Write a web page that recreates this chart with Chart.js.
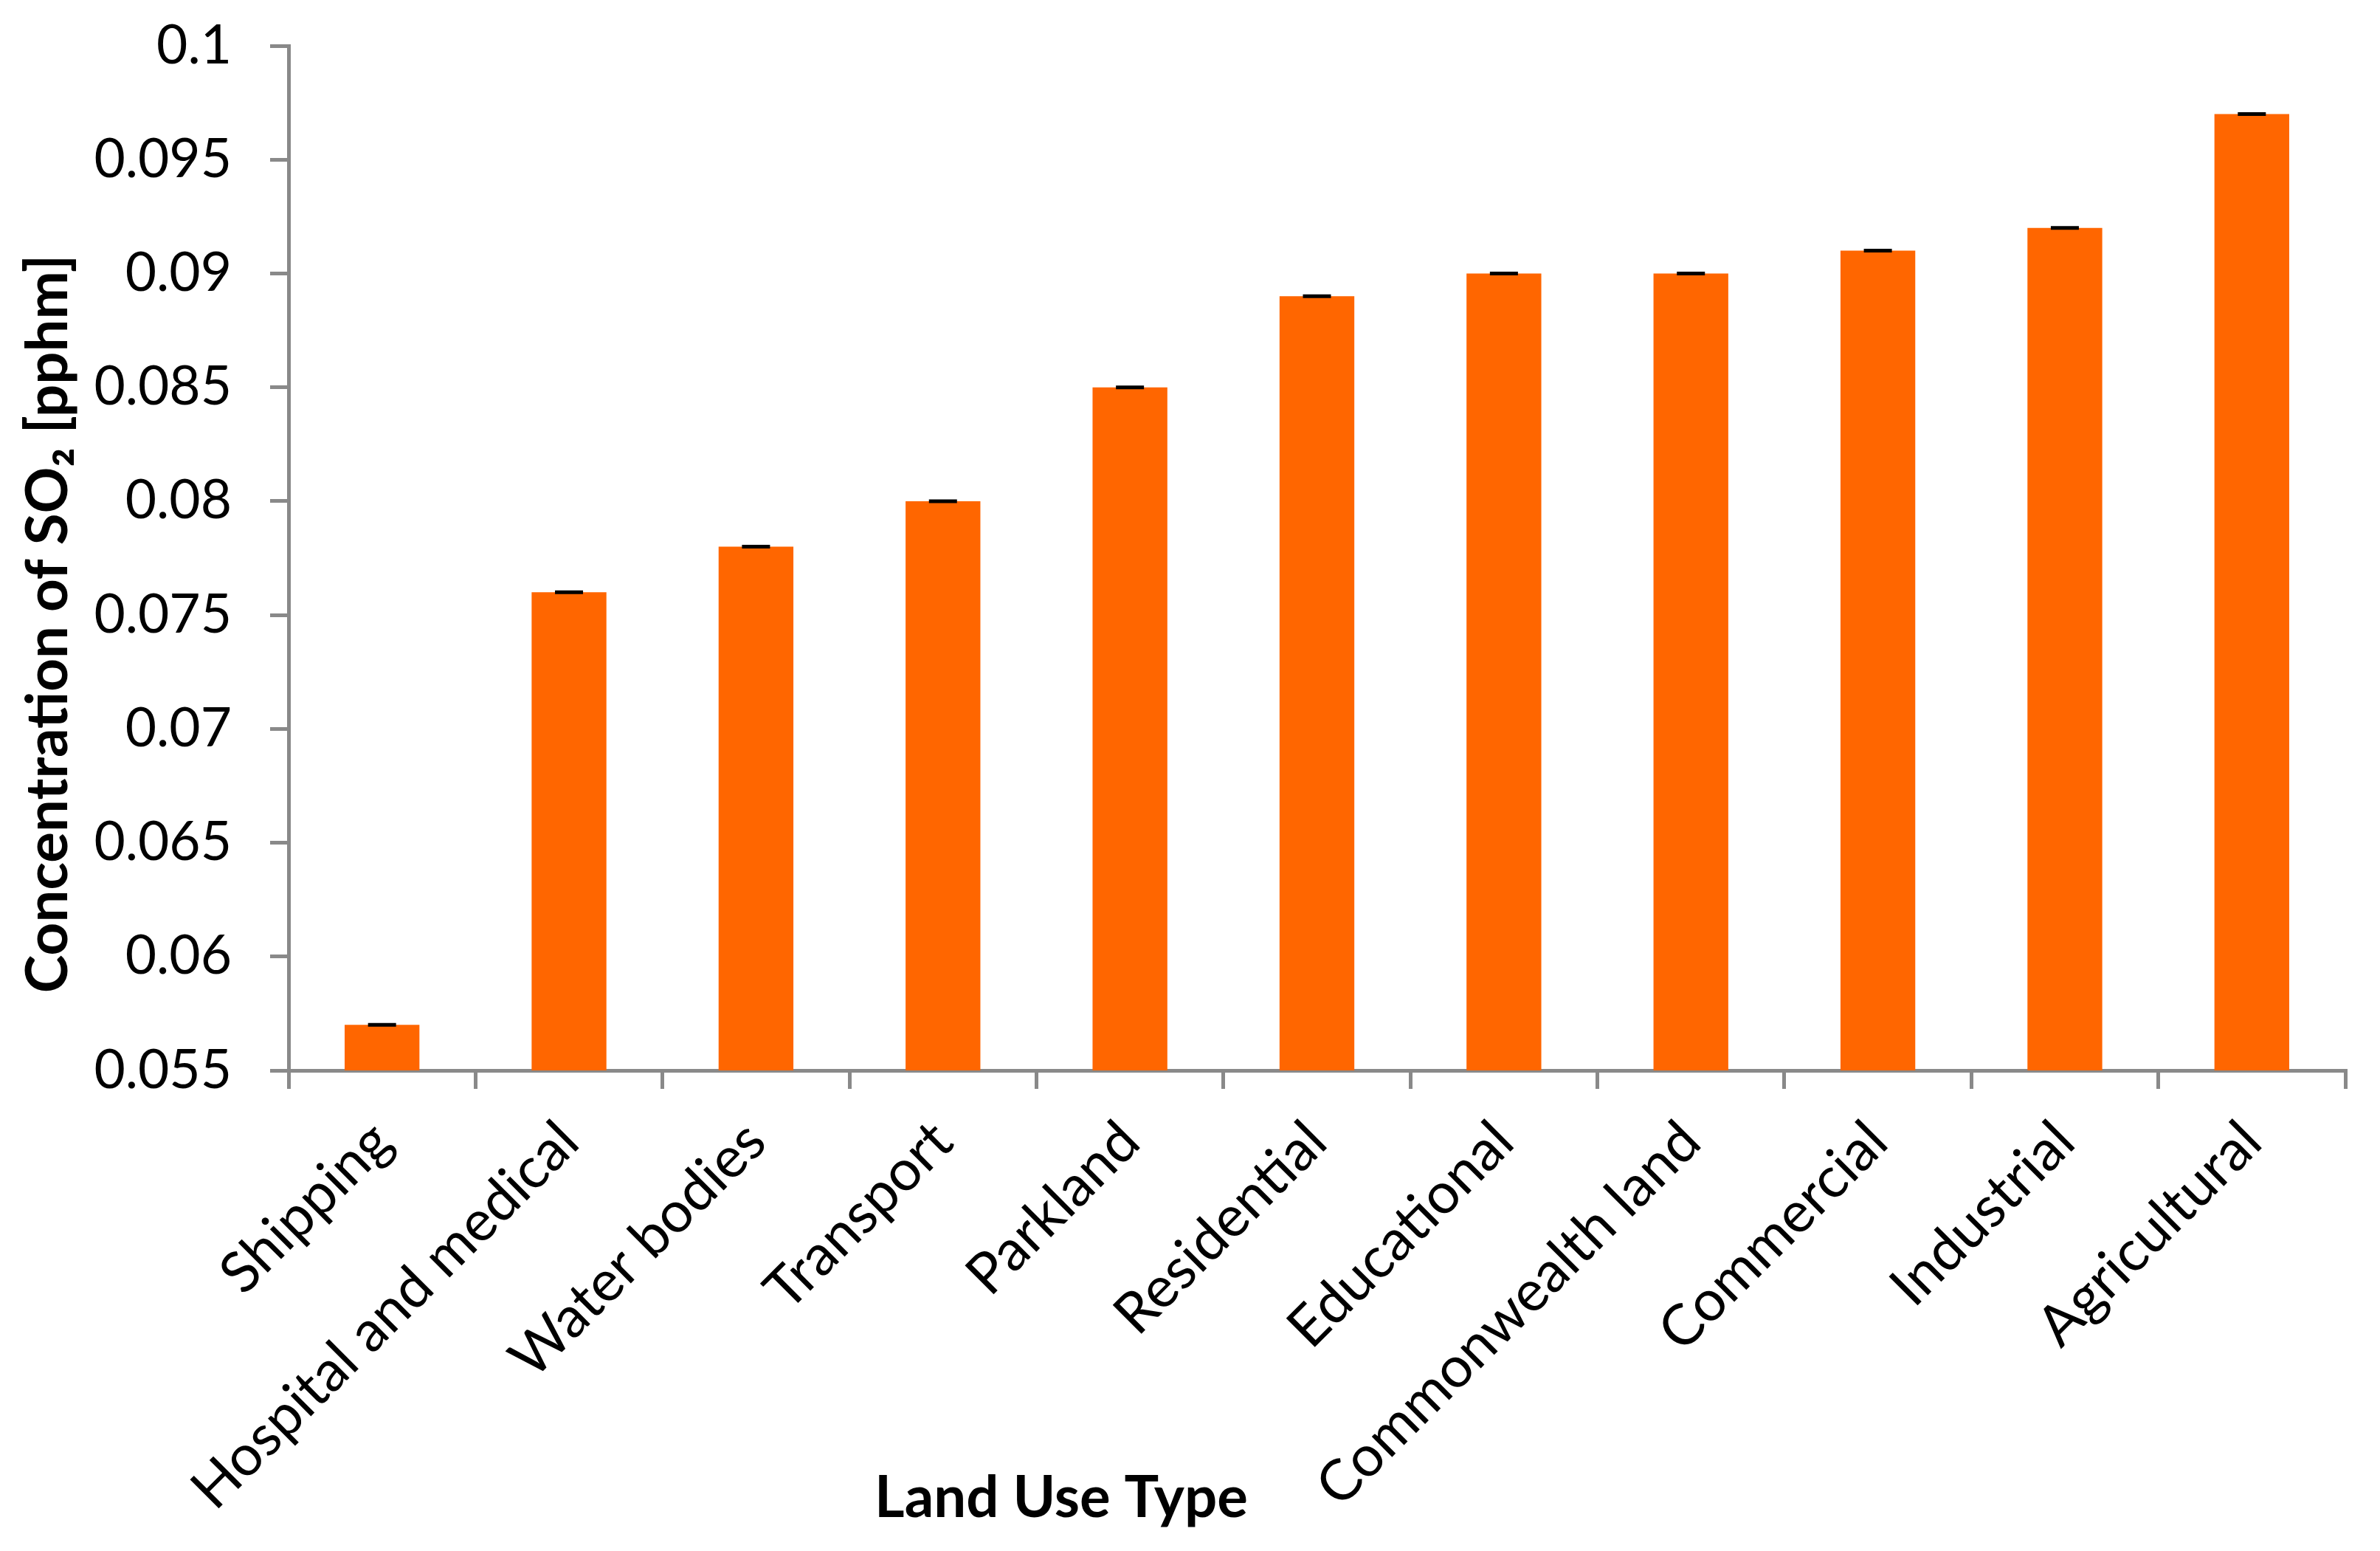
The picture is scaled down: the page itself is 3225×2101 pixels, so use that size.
<!DOCTYPE html>
<html>
<head>
<meta charset="utf-8">
<script src="https://cdn.jsdelivr.net/npm/chart.js@4/dist/chart.umd.min.js"></script>
<style>
  html, body { margin: 0; padding: 0; background: #fff; }
  #wrap { width: 3225px; height: 2101px; }
</style>
</head>
<body>
<div id="wrap"><canvas id="so2Chart" width="3225" height="2101"></canvas></div>
<script>
const categories = ["Shipping", "Hospital and medical", "Water bodies", "Transport", "Parkland",
  "Residential", "Educational", "Commonwealth land", "Commercial", "Industrial", "Agricultural"];
const so2Values = [0.057, 0.076, 0.078, 0.080, 0.085, 0.089, 0.090, 0.090, 0.091, 0.092, 0.097];
const so2Errors = [0, 0, 0, 0, 0, 0, 0, 0, 0, 0, 0];
const yTicks = [0.055, 0.06, 0.065, 0.07, 0.075, 0.08, 0.085, 0.09, 0.095, 0.1];
const xTitle = "Land Use Type";
const yTitle = "Concentration of SO\u2082 [pphm]";

const FONT = "Lato, 'Open Sans', 'Noto Sans', sans-serif";
const AXIS_GREY = "#898989";

// error bar caps, drawn through the y scale
const errorBars = {
  id: "errorBars",
  afterDatasetsDraw(chart) {
    const ctx = chart.ctx;
    const y = chart.scales.y;
    const meta = chart.getDatasetMeta(0);
    ctx.save();
    ctx.strokeStyle = "#000";
    ctx.lineWidth = 5;
    meta.data.forEach((bar, i) => {
      const hi = y.getPixelForValue(so2Values[i] + so2Errors[i]);
      const lo = y.getPixelForValue(so2Values[i] - so2Errors[i]);
      const half = 19;
      ctx.beginPath();
      ctx.moveTo(bar.x, hi); ctx.lineTo(bar.x, lo);
      ctx.moveTo(bar.x - half, hi); ctx.lineTo(bar.x + half, hi);
      ctx.moveTo(bar.x - half, lo); ctx.lineTo(bar.x + half, lo);
      ctx.stroke();
    });
    ctx.restore();
  }
};

// axis titles placed like the original (offset from chart area centre)
const axisTitles = {
  id: "axisTitles",
  afterDraw(chart) {
    const ctx = chart.ctx;
    ctx.save();
    ctx.fillStyle = "#000";
    ctx.font = "bold 78px " + FONT;
    ctx.textAlign = "center";
    ctx.textBaseline = "middle";
    ctx.fillText(xTitle, 1438, 2030);
    ctx.translate(66, 845);
    ctx.rotate(-Math.PI / 2);
    ctx.fillText(yTitle, 0, 0);
    ctx.restore();
  }
};

new Chart(document.getElementById("so2Chart"), {
  type: "bar",
  data: {
    labels: categories,
    datasets: [{
      data: so2Values,
      backgroundColor: "#FF6600",
      borderWidth: 0,
      barPercentage: 0.4,
      categoryPercentage: 1.0
    }]
  },
  options: {
    responsive: false,
    animation: false,
    devicePixelRatio: 1,
    layout: { padding: { top: 62, right: 47, left: 0, bottom: 0 } },
    plugins: {
      legend: { display: false },
      tooltip: { enabled: false }
    },
    scales: {
      x: {
        grid: { display: true, drawOnChartArea: false, drawTicks: true, tickLength: 25, color: AXIS_GREY, lineWidth: 5, offset: true },
        border: { display: true, color: AXIS_GREY, width: 5 },
        ticks: {
          color: "#000",
          font: { family: FONT, size: 77 },
          minRotation: 45,
          maxRotation: 45,
          autoSkip: false,
          padding: 26
        },
        afterFit: axis => {
          axis.height = 2101 - 1450;
          axis.paddingLeft = 0;
          axis.paddingRight = 0;
        }
      },
      y: {
        min: 0.055,
        max: 0.1,
        afterBuildTicks: axis => { axis.ticks = yTicks.map(v => ({ value: v })); },
        grid: { display: true, drawOnChartArea: false, drawTicks: true, tickLength: 25, color: AXIS_GREY, lineWidth: 5 },
        border: { display: true, color: AXIS_GREY, width: 5 },
        ticks: {
          color: "#000",
          font: { family: FONT, size: 73 },
          padding: 52,
          callback: v => String(+Number(v).toFixed(3))
        },
        afterFit: axis => {
          axis.width = 391;
          axis.paddingTop = 0;
          axis.paddingBottom = 0;
        }
      }
    }
  },
  plugins: [errorBars, axisTitles]
});
</script>
</body>
</html>
